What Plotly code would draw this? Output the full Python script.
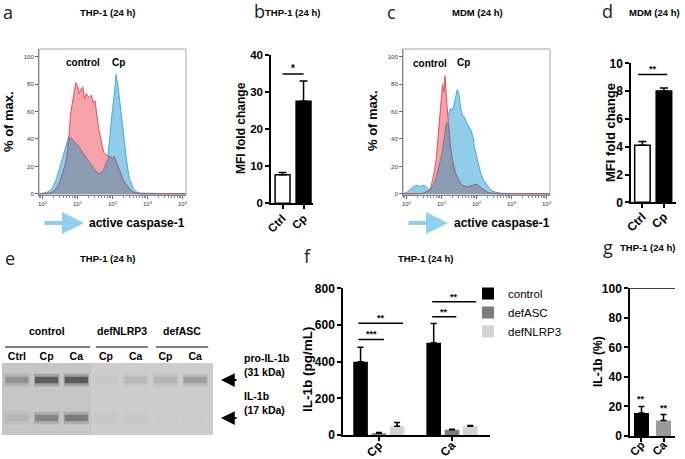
import plotly.graph_objects as go

W, H = 685, 459

# ---------------- data ----------------
# panel a: THP-1 flow histogram (x = log10 fluorescence, y = % of max.)
a_log = [-0.1, 0.0, 0.1, 0.2, 0.3, 0.4, 0.5, 0.55, 0.6, 0.65, 0.7, 0.75, 0.8, 0.85, 0.9, 0.95,
         1.0, 1.05, 1.1, 1.15, 1.2, 1.25, 1.3, 1.35, 1.4, 1.45, 1.5, 1.55, 1.6, 1.65, 1.7, 1.75,
         1.8, 1.85, 1.9, 1.95, 2.0, 2.05, 2.1, 2.15, 2.2, 2.25, 2.3, 2.35, 2.4, 2.45, 2.5, 2.6,
         2.7, 2.8, 3.0, 3.5, 4.0, 4.1]
a_control = [0, 0, 0, 0.5, 1.5, 4, 9, 13, 17, 21, 28, 40, 58, 65, 72, 81,
             79, 73, 76, 78, 69, 73, 71, 70, 72, 66, 68, 56, 48, 42, 36, 30,
             29, 28, 27, 27, 26, 27, 24, 20, 18, 14, 10, 8, 6, 4, 3, 1,
             0.3, 0, 0, 0, 0, 0]
a_cp = [0, 0.3, 1, 2, 5, 11, 20, 26, 30, 33, 38, 42, 41, 40, 38, 37,
        36, 34, 32, 31, 29, 27, 25, 23, 21, 19, 17, 16, 15, 15, 16, 18,
        21, 24, 35, 52, 62, 72, 87, 80, 68, 60, 47, 36, 25, 16, 10, 3.5,
        1.2, 0.6, 0.4, 0.3, 0.3, 0.3]

# panel c: MDM flow histogram
c_log = [-0.1, 0.0, 0.1, 0.2, 0.3, 0.4, 0.5, 0.6, 0.65, 0.7, 0.75, 0.8, 0.85, 0.9, 0.95, 1.0,
         1.03, 1.07, 1.1, 1.14, 1.2, 1.25, 1.3, 1.35, 1.4, 1.45, 1.5, 1.55, 1.6, 1.65, 1.7, 1.75,
         1.8, 1.85, 1.9, 1.95, 2.0, 2.05, 2.1, 2.2, 2.3, 2.4, 2.5, 2.6, 2.7, 3.0, 3.5, 4.0, 4.1]
c_control = [0, 0, 0, 0, 0, 0.3, 0.6, 1.5, 2.5, 5, 10, 17, 26, 40, 55, 72,
             80, 74, 86, 70, 50, 35, 26, 19, 15, 12, 9, 7, 6, 5.5, 5, 5,
             5.5, 6, 6.5, 7, 7, 6, 5, 3, 1.3, 0.5, 0.2, 0, 0, 0, 0, 0, 0]
c_cp = [0.3, 1, 3, 5.5, 6, 5.5, 6.5, 4, 3, 4, 6, 8, 12, 17, 22, 28,
        33, 38, 44, 52, 58, 62, 61, 64, 70, 76, 72, 62, 57, 56, 53, 50,
        48, 46, 41, 33, 27, 22, 17, 10, 6, 3, 1.5, 0.8, 0.5, 0.3, 0.2, 0.2, 0.2]

hist_ticks = [1, 10, 100, 1000, 10000]
hist_ticktext = ["10<sup>0</sup>", "10<sup>1</sup>", "10<sup>2</sup>", "10<sup>3</sup>", "10<sup>4</sup>"]

# panel b: MFI fold change THP-1
b_cats = ["Ctrl", "Cp"]
b_mfi = [7.7, 27.5]
b_err = [0.6, 5.5]
b_sig = [(0, 1, 34.9, "*")]

# panel d: MFI fold change MDM
d_cats = ["Ctrl", "Cp"]
d_mfi = [4.1, 8.0]
d_err = [0.27, 0.22]
d_sig = [(-0.2, 1.15, 9.2, "**")]

# panel e: western blot
e_lanes = ["Ctrl", "Cp", "Ca", "Cp", "Ca", "Cp", "Ca"]
e_groups = ["control", "defNLRP3", "defASC"]
e_group_span = [(-0.4, 2.46), (2.66, 4.41), (4.68, 6.44)]
e_band_kda = [31, 17]
e_band_names = ["pro-IL-1b", "IL-1b"]
e_pro_intensity = [0.45, 0.85, 0.88, 0.04, 0.15, 0.18, 0.35]
e_il1b_intensity = [0.18, 0.55, 0.62, 0.04, 0.04, 0.02, 0.02]

# panel f: IL-1b ELISA
f_cats = ["Cp", "Ca"]
f_series = ["control", "defASC", "defNLRP3"]
f_values = [[400, 503], [10, 28], [48, 48]]
f_errors = [[78, 105], [4, 4], [20, 4]]
f_colors = ["#000000", "#7d7d7d", "#d4d4d4"]
f_sig = [(-0.28, 0.07, 521, "***"), (-0.28, 0.33, 609, "**"),
         (0.73, 1.06, 645, "**"), (0.73, 1.33, 726, "**")]

# panel g: IL-1b (%)
g_cats = ["Cp", "Ca"]
g_pct = [15.5, 10.5]
g_err = [4.5, 4.0]
g_colors = ["#000000", "#9a9a9a"]

FONT = "Liberation Sans"


def xd(p0, p1):
    return [p0 / W, p1 / W]


def yd(top, bottom):
    return [1 - bottom / H, 1 - top / H]


def px(x):
    return x / W


def py(y):
    return 1 - y / H


fig = go.Figure()
annotations = []
shapes = []

# ---------------- histograms ----------------
BLUE_FILL, BLUE_LINE = "#8fcdea", "#45aadd"
RED_FILL, RED_LINE = "#f5a3a9", "#e4505c"
OVER_FILL, OVER_LINE = "#8b9bb1", "#7a6688"


def add_hist(logs, ctrl, cp, n):
    xs = [10 ** v for v in logs]
    over = [min(a, b) for a, b in zip(ctrl, cp)]
    xa, ya = ("x" if n == 1 else f"x{n}"), ("y" if n == 1 else f"y{n}")
    fig.add_trace(go.Scatter(x=xs, y=cp, mode="lines", fill="tozeroy", fillcolor=BLUE_FILL,
                             line=dict(color=BLUE_LINE, width=1), xaxis=xa, yaxis=ya, showlegend=False))
    fig.add_trace(go.Scatter(x=xs, y=ctrl, mode="lines", fill="tozeroy", fillcolor=RED_FILL,
                             line=dict(color=RED_LINE, width=1), xaxis=xa, yaxis=ya, showlegend=False))
    fig.add_trace(go.Scatter(x=xs, y=over, mode="lines", fill="tozeroy", fillcolor=OVER_FILL,
                             line=dict(color=OVER_LINE, width=0.8), xaxis=xa, yaxis=ya, showlegend=False))


add_hist(a_log, a_control, a_cp, 1)
add_hist(c_log, c_control, c_cp, 3)


def hist_axes(x0, x1, n):
    yname = "y" if n == 1 else f"y{n}"
    xname = "x" if n == 1 else f"x{n}"
    xa = dict(domain=xd(x0, x1), anchor=yname, type="log", range=[-0.1, 4.1], automargin=False,
              tickvals=hist_ticks, ticktext=hist_ticktext,
              tickfont=dict(family=FONT, size=6, color="#333"),
              ticks="outside", ticklen=3, tickcolor="#666", showline=True, linecolor="#666",
              linewidth=1, showgrid=False, zeroline=False,
              minor=dict(ticks="outside", ticklen=2, tickcolor="#888", showgrid=False, dtick="D1"))
    ya = dict(domain=yd(49, 195), anchor=xname, range=[-0.8, 105.5], automargin=False,
              tickvals=[0, 20, 40, 60, 80, 100],
              tickfont=dict(family=FONT, size=6, color="#333"),
              ticks="outside", ticklen=3, tickcolor="#666", showline=True, linecolor="#666",
              linewidth=1, showgrid=False, zeroline=False)
    return xa, ya


xa1, ya1 = hist_axes(39, 186, 1)
xa3, ya3 = hist_axes(403, 550, 3)
for ref in ["x", "x3"]:
    yref = "y" if ref == "x" else "y3"
    shapes.append(dict(type="rect", xref=f"{ref} domain", yref=f"{yref} domain", x0=0, x1=1, y0=0, y1=1,
                       line=dict(color="#a5a5a5", width=1)))


# ---------------- bar helpers ----------------
def bar_yaxis(top, bottom, rng, dtick, n, size=12):
    return dict(domain=yd(top, bottom), anchor=f"x{n}", range=rng, dtick=dtick, automargin=False,
                tickfont=dict(family=FONT, size=size, color="black", weight="bold"),
                ticks="outside", ticklen=4, tickwidth=1.5, tickcolor="black",
                showline=True, linecolor="black", linewidth=1.5, showgrid=False, zeroline=False)


def bar_xaxis(x0, x1, rng, n, size=12, standoff=-3):
    return dict(domain=xd(x0, x1), anchor=f"y{n}", range=rng, type="category", automargin=False,
                tickangle=-45, tickfont=dict(family=FONT, size=size, color="black", weight="bold"),
                ticks="outside", ticklen=4, tickwidth=1.5, tickcolor="black", ticklabelstandoff=standoff,
                showline=True, linecolor="black", linewidth=1.5, showgrid=False, zeroline=False)


def add_sig(sigs, n, size=9, dy=0):
    for x0, x1, y, lab in sigs:
        shapes.append(dict(type="line", xref=f"x{n}", yref=f"y{n}", x0=x0, x1=x1, y0=y, y1=y,
                           line=dict(color="black", width=1.5)))
        annotations.append(dict(x=(x0 + x1) / 2, y=y, xref=f"x{n}", yref=f"y{n}", text=f"<b>{lab}</b>",
                                showarrow=False, yanchor="bottom", yshift=-2 + dy,
                                font=dict(family=FONT, size=size, color="black")))


# panel b
fig.add_trace(go.Bar(x=b_cats, y=b_mfi, xaxis="x2", yaxis="y2", width=0.71, showlegend=False,
                     marker=dict(color=["white", "black"], line=dict(color="black", width=1.5)),
                     error_y=dict(type="data", array=b_err, arrayminus=[0, 0], symmetric=False,
                                  color="black", thickness=1.5, width=4)))
xa2 = bar_xaxis(271, 313, [-0.55, 1.45], 2, 11.5, -2)
ya2 = bar_yaxis(55, 203.3, [0, 40], 10, 2, 11.5)
add_sig(b_sig, 2, 10)

# panel d
fig.add_trace(go.Bar(x=d_cats, y=d_mfi, xaxis="x4", yaxis="y4", width=0.72, showlegend=False,
                     marker=dict(color=["white", "black"], line=dict(color="black", width=1.5)),
                     error_y=dict(type="data", array=d_err, arrayminus=[0, 0], symmetric=False,
                                  color="black", thickness=1.5, width=4)))
xa4 = bar_xaxis(631, 676, [-0.53, 1.56], 4, 12, -3)
ya4 = bar_yaxis(63.3, 202.3, [0, 10], 2, 4)
add_sig(d_sig, 4, 9)

# panel e: blot
shapes.append(dict(type="rect", xref="x5 domain", yref="y5 domain", x0=0, x1=1, y0=0, y1=1,
                   fillcolor="#cdcdcd", line=dict(width=0), layer="below"))
shapes.append(dict(type="rect", xref="x5", yref="y5 domain", x0=-0.5, x1=2.5, y0=0, y1=1,
                   fillcolor="rgba(150,150,150,0.12)", line=dict(width=0), layer="below"))
lanes_idx = list(range(len(e_lanes)))


def gray(i, a=1.0):
    v = int(205 - i * (205 - 75))
    return f"rgba({v},{v},{v},{a})"


for kda, ints in zip(e_band_kda, [e_pro_intensity, e_il1b_intensity]):
    fig.add_trace(go.Bar(x=lanes_idx, y=[4.6] * len(ints), base=[kda - 2.3] * len(ints),
                         xaxis="x5", yaxis="y5", width=0.85, offset=-0.425, showlegend=False,
                         marker=dict(color=[gray(i, 0.35) for i in ints], line=dict(width=0))))
    fig.add_trace(go.Bar(x=lanes_idx, y=[2.4] * len(ints), base=[kda - 1.2] * len(ints),
                         xaxis="x5", yaxis="y5", width=0.78, offset=-0.39, showlegend=False,
                         marker=dict(color=[gray(i) for i in ints], line=dict(width=0))))

xa5 = dict(domain=xd(2, 213), anchor="y5", range=[-0.5, 6.6], side="top", automargin=False,
           tickvals=lanes_idx, ticktext=e_lanes, ticks="", showline=False, showgrid=False, zeroline=False,
           tickfont=dict(family=FONT, size=10.5, color="black", weight="bold"))
ya5 = dict(domain=yd(363, 435), anchor="x5", range=[10.7, 37.3], visible=False, automargin=False)

for g, (x0, x1) in zip(e_groups, e_group_span):
    shapes.append(dict(type="line", xref="x5", yref="paper", x0=x0, x1=x1, y0=py(347), y1=py(347),
                       line=dict(color="black", width=1.2)))
    annotations.append(dict(x=(x0 + x1) / 2, y=py(339), xref="x5", yref="paper",
                            text=f"<b>{g}</b>", showarrow=False,
                            font=dict(family=FONT, size=10.5, color="black")))

for kda, name in zip(e_band_kda, e_band_names):
    ypix = 380 if kda == 31 else 418
    annotations.append(dict(x=px(221), y=py(ypix), xref="paper", yref="paper", ax=17, ay=0, text="",
                            showarrow=True, arrowhead=2, arrowsize=1.25, arrowwidth=2.2, arrowcolor="black"))
    annotations.append(dict(x=px(242), y=py(ypix), xref="paper", yref="paper", xanchor="left",
                            text=f"<b>{name}</b><br><b>({kda} kDa)</b>", showarrow=False, align="left",
                            font=dict(family=FONT, size=10.5, color="black")))

# panel f
for name, vals, errs, col in zip(f_series, f_values, f_errors, f_colors):
    fig.add_trace(go.Bar(x=f_cats, y=vals, name=name, xaxis="x6", yaxis="y6",
                         marker=dict(color=col, line=dict(width=0)),
                         error_y=dict(type="data", array=errs, arrayminus=[0, 0], symmetric=False,
                                      color="black", thickness=1.5, width=3)))
xa6 = bar_xaxis(343, 490, [-0.49, 1.52], 6, 12, -7)
ya6 = bar_yaxis(288.3, 435, [0, 800], 200, 6)
add_sig(f_sig, 6, 9)

# panel g
fig.add_trace(go.Bar(x=g_cats, y=g_pct, xaxis="x7", yaxis="y7", width=0.68, showlegend=False,
                     marker=dict(color=g_colors, line=dict(width=0)),
                     error_y=dict(type="data", array=g_err, arrayminus=[0, 0], symmetric=False,
                                  color="black", thickness=1.5, width=3)))
xa7 = bar_xaxis(630, 675, [-0.52, 1.52], 7, 11.5, -8)
ya7 = bar_yaxis(288.3, 436, [0, 100], 20, 7)
shapes.append(dict(type="line", xref="x7 domain", yref="y7", x0=0, x1=1, y0=100, y1=100,
                   line=dict(color="black", width=1.5)))
for c, v, e in zip(g_cats, g_pct, g_err):
    annotations.append(dict(x=c, y=v + e, xref="x7", yref="y7", text="<b>**</b>", showarrow=False,
                            yanchor="bottom", yshift=0, font=dict(family=FONT, size=9, color="black")))


# ---------------- text annotations ----------------
def txt(x, y, t, size, bold=True, angle=0, family=FONT, xanchor="center", color="black"):
    annotations.append(dict(x=px(x), y=py(y), xref="paper", yref="paper",
                            text=f"<b>{t}</b>" if bold else t, showarrow=False, textangle=angle,
                            xanchor=xanchor, yanchor="middle",
                            font=dict(family=family, size=size, color=color)))


LET = "Open Sans"
txt(8, 12, "a", 18, False, family=LET, color="#222")
txt(259, 11, "b", 18, False, family=LET, color="#222")
txt(391, 12, "c", 18, False, family=LET, color="#222")
txt(607, 11, "d", 18, False, family=LET, color="#222")
txt(10, 258, "e", 18, False, family=LET, color="#222")
txt(307, 256, "f", 18, False, family=LET, color="#222")
txt(608, 247, "g", 18, False, family=LET, color="#222")

txt(107, 12, "THP-1 (24 h)", 9.5)
txt(292, 12, "THP-1 (24 h)", 9.5)
txt(477, 12, "MDM (24 h)", 9.5)
txt(654, 12, "MDM (24 h)", 9.5)
txt(107, 258, "THP-1 (24 h)", 9.5)
txt(426, 258, "THP-1 (24 h)", 9.5)
txt(647, 247, "THP-1 (24 h)", 9.5)

# histogram labels
txt(8, 122, "% of max.", 13, angle=-90)
txt(372, 121, "% of max.", 13, angle=-90)
txt(83, 62, "control", 10)
txt(118, 62, "Cp", 10)
txt(430, 64, "control", 10)
txt(463, 63, "Cp", 10)
for x0, x1, tx in [(43, 84, 87), (407, 448, 452)]:
    annotations.append(dict(x=px(x1), y=py(223), xref="paper", yref="paper", ax=-(x1 - x0), ay=0, text="",
                            showarrow=True, arrowhead=2, arrowsize=1.1, arrowwidth=4, arrowcolor="#8fd0ee"))
    txt(tx, 223, "active caspase-1", 12, xanchor="left")

# bar y labels
txt(241, 128, "MFI fold change", 12, angle=-90)
txt(610, 133, "MFI fold change", 13, angle=-90)
txt(307, 370, "IL-1b (pg/mL)", 13.5, angle=-90)
txt(598, 362, "IL-1b (%)", 12, angle=-90)

fig.update_layout(
    template="none",
    width=W, height=H, margin=dict(l=0, r=0, t=0, b=0, autoexpand=False),
    paper_bgcolor="white", plot_bgcolor="rgba(0,0,0,0)",
    font=dict(family=FONT, color="black"),
    barmode="group", bargap=0.25, bargroupgap=0.2,
    xaxis=xa1, yaxis=ya1, xaxis2=xa2, yaxis2=ya2, xaxis3=xa3, yaxis3=ya3,
    xaxis4=xa4, yaxis4=ya4, xaxis5=xa5, yaxis5=ya5, xaxis6=xa6, yaxis6=ya6,
    xaxis7=xa7, yaxis7=ya7,
    showlegend=True,
    legend=dict(x=px(468), y=py(279), xanchor="left", yanchor="top", bgcolor="rgba(0,0,0,0)",
                font=dict(family=FONT, size=11.5, color="black"), tracegroupgap=0),
    annotations=annotations, shapes=shapes,
)

fig.write_html("out.html", config={"displayModeBar": False},
               post_script="document.body.style.margin='0';document.body.style.overflow='hidden';")
